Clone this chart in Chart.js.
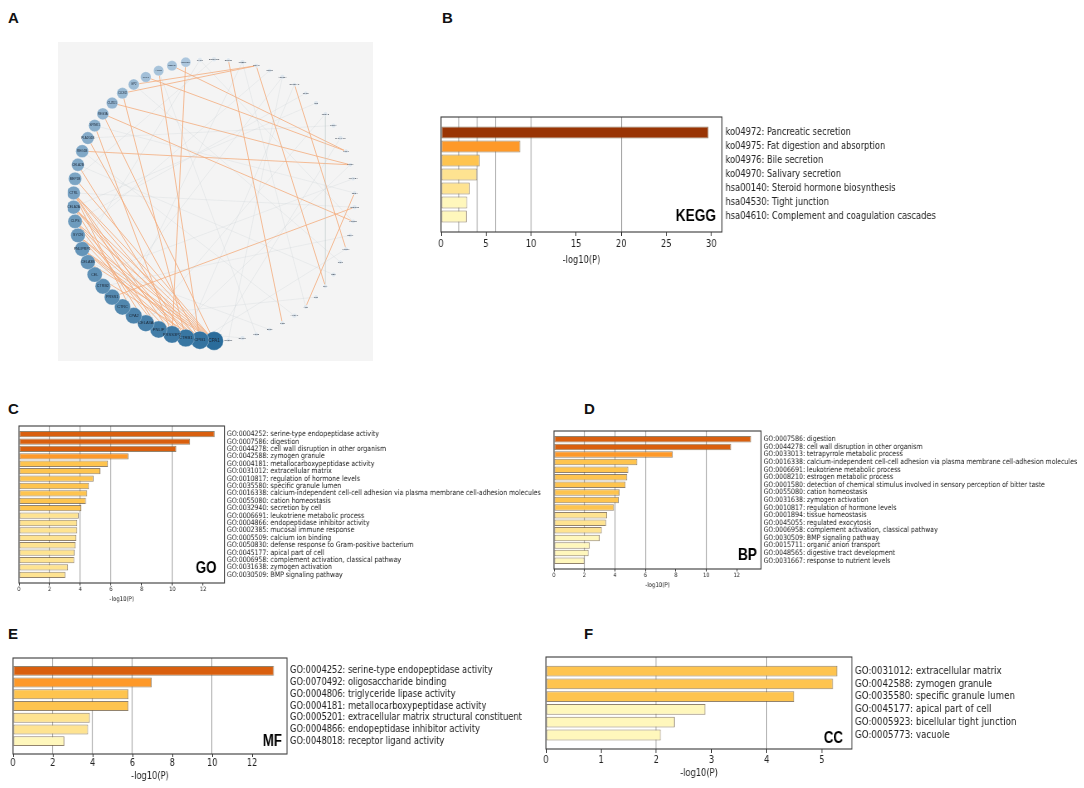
<!DOCTYPE html>
<html>
<head>
<meta charset="utf-8">
<script src="https://cdn.jsdelivr.net/npm/chart.js@4.4.0/dist/chart.umd.min.js"></script>
<style>
  html, body { margin: 0; padding: 0; background: #fff; }
  #page { position: relative; width: 1084px; height: 788px; overflow: hidden; }
  .letter { position: absolute; font: bold 15px "Liberation Sans", Arial, sans-serif; color: #111; }
  canvas { position: absolute; }
</style>
</head>
<body>
<div id="page">
  <div class="letter" style="left:8px;top:9px">A</div>
  <div class="letter" style="left:442px;top:9px">B</div>
  <div class="letter" style="left:8px;top:400px">C</div>
  <div class="letter" style="left:584px;top:400px">D</div>
  <div class="letter" style="left:8px;top:625px">E</div>
  <div class="letter" style="left:584px;top:625px">F</div>
</div>
<script>
// ---- A: network ----
const geneNames = ['CPA1','CPB1','CTRB1','PRSS3P2','PNLIP','CELA3A','CPA2','CTRC','PRSS1','CTRB2',
  'CEL','CELA3B','PNLIPRP1','SYCN','CLPS','CELA2A','CTRL','MEP1B','CELA2B','REG1B',
  'PLA2G1B','SPINK1','REG3A','CUZD1','CLDN2','GP2','KLK1','AQP8','RBPJL','REG3G',
  'GATM','SERPINI2','ERP27','TMED6','PDIA2','GNMT','AQP12A','SLC39A5','CFTR','INS',
  'NR5A2','PTF1A','BHLHA15','TFF1','MUC1','LGALS4','CD24','CLDN18','HNF1B','SOX9',
  'KRT19','GCG','SST','PPY','TTR','ALB','APOA1','FGB','SPP1','LCN2','OLFM4','DMBT1'];
const geneDegree = [30,28,27,26,25,24,23,22,21,20,19,18,18,17,16,15,14,13,12,12,
  11,10,9,8,7,6,5,4,4,3,
  2,2,1,2,1,1,2,1,1,2,1,2,2,1,1,1,1,2,1,1,1,1,2,1,1,1,2,1,1,1,2,1];
const orangeEdges = [[29,3],[28,43],[26,43],[23,44],[19,44],[22,48],[27,1],[24,2],[32,57],[34,53],
  [37,50],[47,8],[46,55],[25,34],[24,34],[0,16],[0,15],[0,14],[0,13],[0,12],
  [1,16],[1,15],[1,13],[2,15],[2,14],[3,16],[0,11],[1,12],[0,17],[2,18],
  [4,16],[22,0],[20,1],[21,3],[3,13],[4,14],[5,15],[2,12],[1,10],[6,16]];
const grayEdges = [[5,40],[8,36],[10,45],[12,30],[14,38],[18,52],[20,41],[9,49],[7,33],[11,58],
  [13,35],[16,47],[6,54],[15,39],[17,31],[3,44],[2,37],[1,50],[0,42],[4,60],
  [19,56],[21,46],[25,51],[27,59],[30,48],[33,55],[36,61],[40,53]];

// ---- B: KEGG ----
const keggLabels = ['ko04972: Pancreatic secretion','ko04975: Fat digestion and absorption','ko04976: Bile secretion',
  'ko04970: Salivary secretion','hsa00140: Steroid hormone biosynthesis','hsa04530: Tight junction',
  'hsa04610: Complement and coagulation cascades'];
const keggValues = [29.7, 8.8, 4.3, 4.0, 3.2, 2.9, 2.85];
const keggTicks = [0, 5, 10, 15, 20, 25, 30];

// ---- C: GO ----
const goLabels = ['GO:0004252: serine-type endopeptidase activity','GO:0007586: digestion',
  'GO:0044278: cell wall disruption in other organism','GO:0042588: zymogen granule',
  'GO:0004181: metallocarboxypeptidase activity','GO:0031012: extracellular matrix',
  'GO:0010817: regulation of hormone levels','GO:0035580: specific granule lumen',
  'GO:0016338: calcium-independent cell-cell adhesion via plasma membrane cell-adhesion molecules',
  'GO:0055080: cation homeostasis','GO:0032940: secretion by cell','GO:0006691: leukotriene metabolic process',
  'GO:0004866: endopeptidase inhibitor activity','GO:0002385: mucosal immune response',
  'GO:0005509: calcium ion binding','GO:0050830: defense response to Gram-positive bacterium',
  'GO:0045177: apical part of cell','GO:0006958: complement activation, classical pathway',
  'GO:0031638: zymogen activation','GO:0030509: BMP signaling pathway'];
const goValues = [12.75, 11.15, 10.25, 7.13, 5.8, 5.3, 4.86, 4.56, 4.45, 4.36,
  4.06, 3.89, 3.8, 3.8, 3.74, 3.69, 3.63, 3.6, 3.2, 3.02];
const goTicks = [0, 2, 4, 6, 8, 10, 12];

// ---- D: BP ----
const bpLabels = ['GO:0007586: digestion','GO:0044278: cell wall disruption in other organism',
  'GO:0033013: tetrapyrrole metabolic process',
  'GO:0016338: calcium-independent cell-cell adhesion via plasma membrane cell-adhesion molecules',
  'GO:0006691: leukotriene metabolic process','GO:0008210: estrogen metabolic process',
  'GO:0001580: detection of chemical stimulus involved in sensory perception of bitter taste',
  'GO:0055080: cation homeostasis','GO:0031638: zymogen activation','GO:0010817: regulation of hormone levels',
  'GO:0001894: tissue homeostasis','GO:0045055: regulated exocytosis',
  'GO:0006958: complement activation, classical pathway','GO:0030509: BMP signaling pathway',
  'GO:0015711: organic anion transport','GO:0048565: digestive tract development',
  'GO:0031667: response to nutrient levels'];
const bpValues = [12.94, 11.63, 7.8, 5.47, 4.88, 4.81, 4.7, 4.31, 4.25, 3.94,
  3.49, 3.42, 3.14, 3.0, 2.35, 2.27, 2.0];
const bpTicks = [0, 2, 4, 6, 8, 10, 12];

// ---- E: MF ----
const mfLabels = ['GO:0004252: serine-type endopeptidase activity','GO:0070492: oligosaccharide binding',
  'GO:0004806: triglyceride lipase activity','GO:0004181: metallocarboxypeptidase activity',
  'GO:0005201: extracellular matrix structural constituent','GO:0004866: endopeptidase inhibitor activity',
  'GO:0048018: receptor ligand activity'];
const mfValues = [13.1, 6.96, 5.8, 5.8, 3.86, 3.77, 2.58];
const mfTicks = [0, 2, 4, 6, 8, 10, 12];

// ---- F: CC ----
const ccLabels = ['GO:0031012: extracellular matrix','GO:0042588: zymogen granule','GO:0035580: specific granule lumen',
  'GO:0045177: apical part of cell','GO:0005923: bicellular tight junction','GO:0005773: vacuole'];
const ccValues = [5.28, 5.2, 4.5, 2.89, 2.33, 2.08];
const ccTicks = [0, 1, 2, 3, 4, 5];

// threshold lines drawn in every bar panel
const gridValues = [2, 4, 6, 10, 20];

// bar fill colours (YlOrBr steps)
const PAL = { dred: '#993404', dorg: '#d95f0e', org: '#fe9929', amb: '#fec44f', lt: '#fee391', cr: '#fff7bc' };
const keggColors = ['dred','org','amb','lt','lt','cr','cr'];
const goColors = ['dorg','dorg','dorg','org','amb','amb','amb','amb','amb','amb','amb','lt','lt','lt','lt','lt','lt','lt','lt','lt'];
const bpColors = ['dorg','dorg','org','amb','amb','amb','amb','amb','amb','amb','lt','lt','lt','cr','cr','cr','cr'];
const mfColors = ['dorg','org','amb','amb','lt','lt','cr'];
const ccColors = ['amb','amb','amb','cr','cr','cr'];

const page = document.getElementById('page');
const S = 0.83;           // horizontal squeeze of the bar panels
const BASE_FONT = '"DejaVu Sans", Verdana, sans-serif';

function addCanvas(left, top, w, h) {
  const c = document.createElement('canvas');
  c.width = w; c.height = h;
  c.style.left = left + 'px'; c.style.top = top + 'px';
  c.style.width = w + 'px'; c.style.height = h + 'px';
  page.appendChild(c);
  return c;
}

const framePlugin = {
  id: 'frame',
  afterDraw(chart, args, opts) {
    const { ctx, chartArea: a } = chart;
    ctx.save();
    ctx.strokeStyle = '#3a3a3a';
    ctx.lineWidth = 1.1;
    ctx.strokeRect(a.left, a.top, a.right - a.left, a.bottom - a.top);
    ctx.font = `bold ${opts.size}px "Liberation Sans", Arial, sans-serif`;
    ctx.fillStyle = '#000';
    ctx.textAlign = 'right';
    ctx.textBaseline = 'alphabetic';
    ctx.fillText(opts.tag, a.right - opts.inset / S, a.bottom - opts.base);
    ctx.restore();
  }
};

function barPanel(p) {
  const padL = 12, padT = 4;
  const plotW = (p.x1 - p.x0) / S;
  const plotH = p.y1 - p.y0;
  const yW = p.labelW / S;
  const axisH = p.titleOff + p.titleFont * 0.6;
  const W = Math.ceil(padL + plotW + yW + 4);
  const H = Math.ceil(padT + plotH + axisH + 2);
  const padR = W - padL - plotW - yW;
  const padB = H - padT - plotH - axisH;

  const c = addCanvas(p.x0 - S * padL, p.y0 - padT, W, H);
  c.style.transformOrigin = '0 0';
  c.style.transform = `scaleX(${S})`;

  const n = p.labels.length;
  const m = 1.1;
  const xMax = Math.max(...p.values) * 1.05;

  new Chart(c, {
    type: 'bar',
    data: {
      datasets: [{
        data: p.values.map((v, i) => ({ x: v, y: i })),
        backgroundColor: p.colors.map(k => PAL[k]),
        borderColor: 'rgba(110,90,60,0.75)',
        borderWidth: 1,
        borderSkipped: false,
        categoryPercentage: 1,
        barPercentage: 0.85,
        xAxisID: 'x',
        yAxisID: 'y'
      }]
    },
    options: {
      indexAxis: 'y',
      responsive: false,
      animation: false,
      events: [],
      layout: { padding: { left: padL, top: padT, right: padR, bottom: padB } },
      plugins: {
        legend: { display: false },
        tooltip: { enabled: false },
        frame: { tag: p.tag, size: p.tagSize, inset: p.tagInset, base: p.tagBase }
      },
      scales: {
        x: {
          type: 'linear', position: 'bottom', min: 0, max: xMax, offset: false,
          afterBuildTicks: s => { s.ticks = p.ticks.map(v => ({ value: v })); },
          afterFit: s => { s.height = axisH; s.paddingLeft = 0; s.paddingRight = 0; },
          grid: { drawOnChartArea: false, drawTicks: true, tickLength: p.tickLen, color: '#333', offset: false },
          border: { display: false },
          ticks: { font: { family: BASE_FONT, size: p.tickFont }, color: '#222', padding: p.tickPad, maxRotation: 0, autoSkip: false },
          title: { display: true, text: '-log10(P)', font: { family: BASE_FONT, size: p.titleFont }, color: '#222', padding: 0 }
        },
        xg: {
          type: 'linear', position: 'top', min: 0, max: xMax, offset: false,
          afterBuildTicks: s => { s.ticks = gridValues.filter(v => v < xMax).map(v => ({ value: v })); },
          afterFit: s => { s.height = 0; s.paddingLeft = 0; s.paddingRight = 0; },
          ticks: { display: false },
          grid: { color: '#a8a8a8', lineWidth: 1.1, drawTicks: false, offset: false },
          border: { display: false }
        },
        y: {
          type: 'linear', position: 'right', reverse: true, min: -m, max: n - 1 + m, offset: false,
          afterBuildTicks: s => { s.ticks = p.labels.map((l, i) => ({ value: i })); },
          afterFit: s => { s.width = yW; s.paddingTop = 0; s.paddingBottom = 0; },
          grid: { display: false, drawTicks: false, offset: false },
          border: { display: false },
          ticks: {
            callback: v => p.labels[v],
            autoSkip: false,
            padding: p.labelPad / S,
            font: { family: BASE_FONT, size: p.labelFont },
            color: '#222'
          }
        }
      }
    },
    plugins: [framePlugin]
  });
}

barPanel({ labels: keggLabels, values: keggValues, colors: keggColors, ticks: keggTicks,
  x0: 441, x1: 722, y0: 117, y1: 232, labelW: 262, labelPad: 3.5,
  labelFont: 10, tickFont: 10, titleFont: 10, tickLen: 4, tickPad: 2, titleOff: 28,
  tag: 'KEGG', tagSize: 16.5, tagInset: 6, tagBase: 11 });

barPanel({ labels: goLabels, values: goValues, colors: goColors, ticks: goTicks,
  x0: 18.5, x1: 224, y0: 426, y1: 583, labelW: 330, labelPad: 2.5,
  labelFont: 7.5, tickFont: 6, titleFont: 6.5, tickLen: 2.5, tickPad: 0.5, titleOff: 16,
  tag: 'GO', tagSize: 16, tagInset: 8, tagBase: 10 });

barPanel({ labels: bpLabels, values: bpValues, colors: bpColors, ticks: bpTicks,
  x0: 554, x1: 761, y0: 431, y1: 569, labelW: 322, labelPad: 2.5,
  labelFont: 7.5, tickFont: 6, titleFont: 6.5, tickLen: 2.5, tickPad: 0.5, titleOff: 16,
  tag: 'BP', tagSize: 16.5, tagInset: 4, tagBase: 9 });

barPanel({ labels: mfLabels, values: mfValues, colors: mfColors, ticks: mfTicks,
  x0: 13, x1: 287, y0: 658, y1: 754, labelW: 270, labelPad: 3,
  labelFont: 10, tickFont: 10, titleFont: 10, tickLen: 3, tickPad: 0, titleOff: 22,
  tag: 'MF', tagSize: 16, tagInset: 5, tagBase: 8 });

barPanel({ labels: ccLabels, values: ccValues, colors: ccColors, ticks: ccTicks,
  x0: 546, x1: 852, y0: 657, y1: 749, labelW: 225, labelPad: 3,
  labelFont: 10.5, tickFont: 10, titleFont: 10, tickLen: 4, tickPad: 1, titleOff: 24,
  tag: 'CC', tagSize: 16, tagInset: 9, tagBase: 6 });

// ---- A: circular network drawn as a scatter chart ----
const netCanvas = addCanvas(58, 42, 315, 319);
netCanvas.style.background = '#f4f4f4';

const N = geneNames.length;
function nodePos(i) {
  const t = i * 2 * Math.PI / N;           // clockwise from the bottom
  return { x: -Math.sin(t), y: -Math.cos(t) };
}
const maxDeg = Math.max(...geneDegree);
const nodeRadius = geneDegree.map(d => d > 2 ? 4.5 + d * 0.16 : 1.8 + d * 0.3);
const nodeColor = geneDegree.map(d => {
  if (d <= 2) return 'rgb(222,230,237)';
  const t = d / maxDeg;
  const lo = [186, 208, 228], hi = [42, 108, 155];
  const c = lo.map((v, k) => Math.round(v + (hi[k] - v) * t));
  return `rgb(${c[0]},${c[1]},${c[2]})`;
});

const edgeSet = (list, color, width) => list.map(([a, b]) => ({
  type: 'scatter',
  data: [nodePos(a), nodePos(b)],
  showLine: true,
  pointRadius: 0,
  borderColor: color,
  borderWidth: width,
  order: 1
}));

const nodeLabelPlugin = {
  id: 'nodeLabels',
  afterDatasetsDraw(chart) {
    const { ctx } = chart;
    const meta = chart.getDatasetMeta(0);
    ctx.save();
    ctx.textAlign = 'center';
    ctx.textBaseline = 'middle';
    ctx.fillStyle = '#1c2838';
    meta.data.forEach((pt, i) => {
      const fs = Math.max(2.3, nodeRadius[i] * 0.48);
      ctx.font = `${fs}px "Liberation Sans", Arial, sans-serif`;
      ctx.fillText(geneNames[i], pt.x, pt.y);
    });
    ctx.restore();
  }
};

new Chart(netCanvas, {
  type: 'scatter',
  data: {
    datasets: [
      {
        data: geneNames.map((g, i) => nodePos(i)),
        pointRadius: nodeRadius,
        pointBackgroundColor: nodeColor,
        pointBorderColor: 'rgba(255,255,255,0.5)',
        pointBorderWidth: 0.5,
        order: 0
      },
      ...edgeSet(grayEdges, 'rgba(190,195,200,0.35)', 0.6),
      ...edgeSet(orangeEdges, 'rgba(244,172,125,0.8)', 1)
    ]
  },
  options: {
    responsive: false,
    animation: false,
    events: [],
    layout: { padding: 0 },
    plugins: { legend: { display: false }, tooltip: { enabled: false } },
    scales: {
      x: { type: 'linear', display: false, min: -1.04, max: 1.06 },
      y: { type: 'linear', display: false, min: -1.073, max: 1.053 }
    }
  },
  plugins: [nodeLabelPlugin]
});
</script>
</body>
</html>
